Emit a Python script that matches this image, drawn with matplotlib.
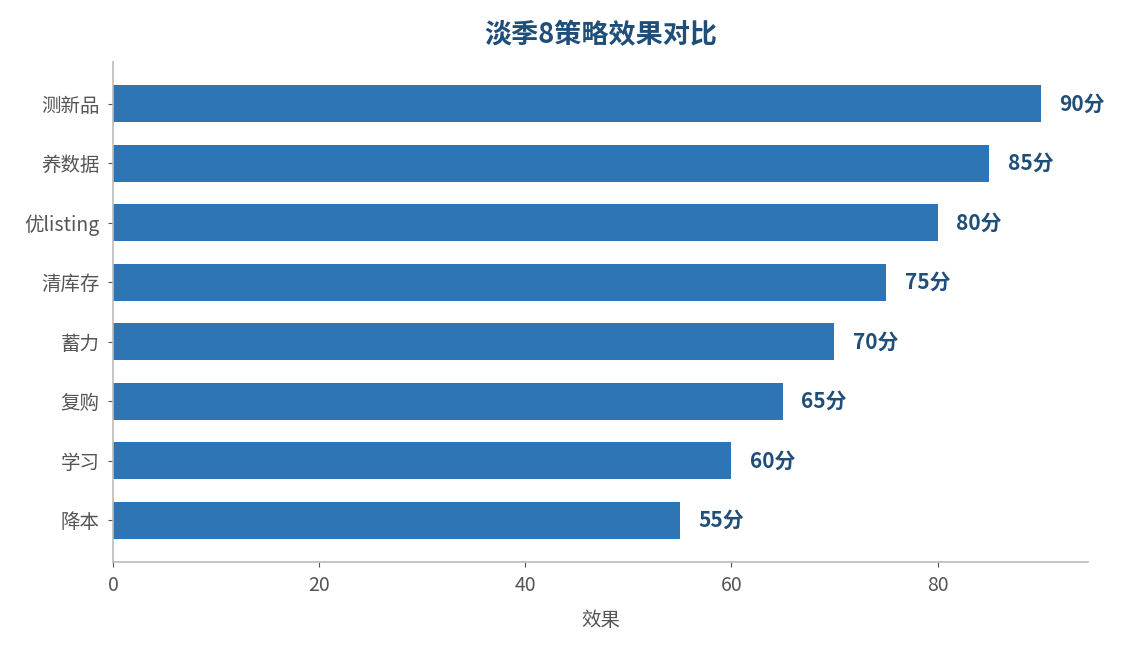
import matplotlib
matplotlib.use('Agg')
import matplotlib.pyplot as plt

plt.rcParams['font.family'] = ['Noto Sans CJK SC', 'DejaVu Sans']
plt.rcParams['axes.unicode_minus'] = False

# 数据
strategies = ['降本', '学习', '复购', '蓄力', '清库存', '优listing', '养数据', '测新品']
scores = [55, 60, 65, 70, 75, 80, 85, 90]

fig = plt.figure(figsize=(11.22, 6.45), dpi=100)
ax = fig.add_axes([0.1007, 0.1287, 0.869, 0.775])

bars = ax.barh(strategies, scores, height=0.62, color='#2E75B6')

for b, v in zip(bars, scores):
    ax.text(b.get_width() + 1.8, b.get_y() + b.get_height() / 2, f'{v}分',
            va='center', ha='left', fontsize=15, fontweight='bold', color='#1F4E79')

ax.set_xlim(0, 94.6)
ax.set_ylim(-0.7, 7.7)
ax.set_xlabel('效果', fontsize=14, color='#555555', labelpad=10)
ax.set_title('淡季8策略效果对比', fontsize=19.5, fontweight='bold', color='#1F4E79', pad=14)

ax.spines['top'].set_visible(False)
ax.spines['right'].set_visible(False)
for s in ['left', 'bottom']:
    ax.spines[s].set_color('#BBBBBB')
    ax.spines[s].set_linewidth(1.2)
ax.tick_params(axis='both', colors='#555555', labelcolor='#555555', labelsize=14)
ax.tick_params(axis='x', pad=6)
ax.tick_params(axis='y', pad=6)

fig.savefig('out.png', dpi=100)
